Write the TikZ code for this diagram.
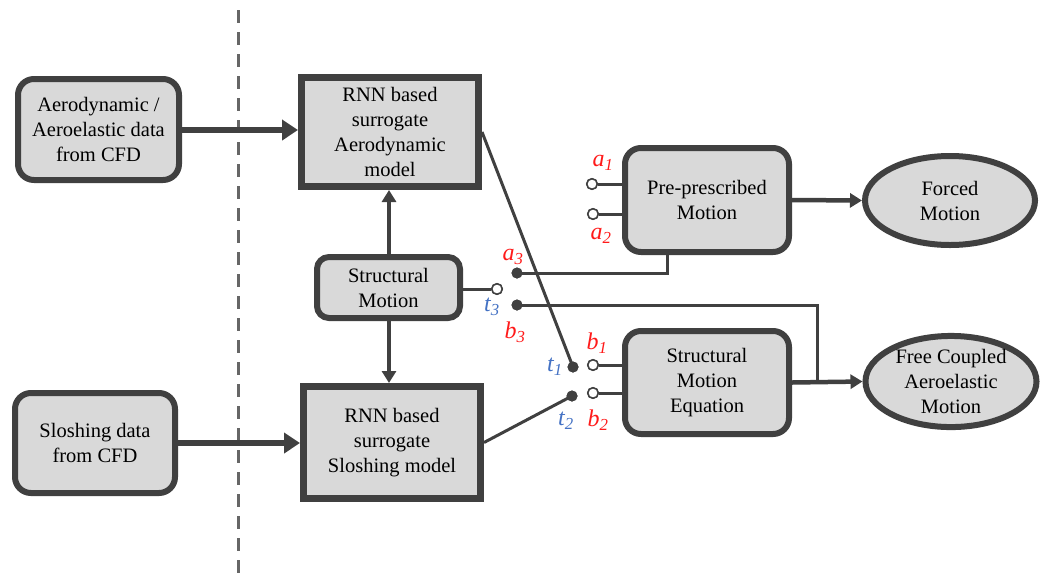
\documentclass[tikz,border=0pt]{standalone}
\usepackage{fontspec}
\setmainfont{Liberation Serif}
\usetikzlibrary{arrows.meta,shapes.geometric,shadows,calc}
\definecolor{bordc}{HTML}{404040}
\definecolor{fillc}{HTML}{D9D9D9}
\definecolor{redl}{HTML}{FF1A1A}
\definecolor{bluel}{HTML}{4472C4}
\definecolor{dashc}{HTML}{666666}
\begin{document}
\begin{tikzpicture}[x=1pt,y=-1pt,
  txt/.style={font=\fontsize{20.5}{25}\selectfont, align=center, text=black},
  rbox/.style={txt, draw=bordc, fill=fillc, line width=6pt, rounded corners=16pt, inner sep=0pt},
  sbox/.style={txt, draw=bordc, fill=fillc, line width=7pt, inner sep=0pt,
     drop shadow={opacity=0.35, shadow xshift=2pt, shadow yshift=-3pt}},
  ebox/.style={txt, ellipse, draw=bordc, fill=fillc, line width=6pt, inner sep=0pt},
  bigarrow/.style={draw=bordc, line width=5.5pt, -{Triangle[length=16pt,width=20pt]}},
  midarrow/.style={draw=bordc, line width=4.5pt, -{Triangle[length=12pt,width=14pt]}},
  wire/.style={draw=bordc, line width=3pt},
  opendot/.style={circle, draw=bordc, fill=white, line width=1.5pt, minimum size=10.5pt, inner sep=0pt},
  fulldot/.style={circle, fill=bordc, minimum size=11pt, inner sep=0pt},
  rlab/.style={text=redl, font=\fontsize{24}{24}\selectfont\itshape, inner sep=0pt},
  blab/.style={text=bluel, font=\fontsize{24}{24}\selectfont\itshape, inner sep=0pt}
]
\useasboundingbox (0,0) rectangle (1041,574);
\fill[white] (0,0) rectangle (1041,574);

% dashed separator
\coordinate (dtop) at (238,10);
\coordinate (dbot) at (238,574);
\draw[dashc, line width=3pt, dash pattern=on 13pt off 9pt] (dtop) -- (dbot);

% boxes
\node[rbox, minimum width=161pt, minimum height=101pt] (aero) at (98.5,129.5)
  {Aerodynamic /\\Aeroelastic data\\from CFD};
\node[rbox, minimum width=160pt, minimum height=100pt] (slosh) at (95,443)
  {Sloshing data\\from CFD};
\node[sbox, minimum width=177pt, minimum height=109pt] (rnna) at (390,132)
  {RNN based\\surrogate\\Aerodynamic\\model};
\node[sbox, minimum width=177pt, minimum height=112pt] (rnns) at (392,442.5)
  {RNN based\\surrogate\\Sloshing model};
\node[rbox, minimum width=143pt, minimum height=61pt, rounded corners=12pt] (sm) at (388.5,287.5)
  {Structural\\Motion};
\node[rbox, minimum width=164pt, minimum height=104pt] (ppm) at (707,200)
  {Pre-prescribed\\Motion};
\node[rbox, minimum width=164pt, minimum height=103pt] (sme) at (707,382.5)
  {Structural\\Motion\\Equation};
\node[ebox, minimum width=170pt, minimum height=89pt] (forced) at (950,200.5)
  {Forced\\Motion};
\node[ebox, minimum width=171pt, minimum height=87pt] (free) at (951,381.5)
  {Free Coupled\\Aeroelastic\\Motion};

% switch terminals
\node[opendot] (a1) at (592,184) {};
\node[opendot] (a2) at (593,214) {};
\node[fulldot] (a3) at (517,273) {};
\node[opendot] (t3) at (497,289) {};
\node[fulldot] (b3) at (517,305) {};
\node[opendot] (b1) at (593,365) {};
\node[opendot] (b2) at (593,393) {};
\node[fulldot] (t1) at (573,367) {};
\node[fulldot] (t2) at (572,396) {};
\coordinate (j) at (817,382);

% connectors
\draw[bigarrow] (aero.east |- 0,130) -- (rnna.west |- 0,130);
\draw[bigarrow] (slosh.east |- 0,443) -- (rnns.west |- 0,443);
\draw[midarrow] (sm.north -| 389,0) -- (rnna.south -| 389,0);
\draw[midarrow] (sm.south -| 389,0) -- (rnns.north -| 389,0);
\draw[midarrow] (ppm.east) -- (forced.west);
\draw[midarrow] (sme.east) -- (free.west);
\draw[wire] (sm.east |- t3) -- (t3.west);
\draw[wire] (a1.east) -- (a1 -| ppm.west);
\draw[wire] (a2.east) -- (a2 -| ppm.west);
\draw[wire] (b1.east) -- (b1 -| sme.west);
\draw[wire] (b2.east) -- (b2 -| sme.west);
\draw[wire] (a3.center) -| ([xshift=-40pt]ppm.south);
\draw[wire] (b3.center) -| (j);
\draw[wire] (rnna.east) -- (t1.center);
\draw[wire] (rnns.east) -- (t2.center);

% redraw terminals on top
\node[opendot] at (a1) {};
\node[opendot] at (a2) {};
\node[opendot] at (t3) {};
\node[opendot] at (b1) {};
\node[opendot] at (b2) {};
\node[fulldot] at (a3) {};
\node[fulldot] at (b3) {};
\node[fulldot] at (t1) {};
\node[fulldot] at (t2) {};

% labels
\node[rlab] (la1) at (603,163) {a\textsubscript{1}};
\node[rlab] (la2) at (601,236) {a\textsubscript{2}};
\node[rlab] (la3) at (513,257) {a\textsubscript{3}};
\node[rlab] (lb3) at (515,332) {b\textsubscript{3}};
\node[blab] (lt3) at (492,307) {t\textsubscript{3}};
\node[rlab] (lb1) at (597,343) {b\textsubscript{1}};
\node[blab] (lt1) at (555,367) {t\textsubscript{1}};
\node[blab] (lt2) at (566,421) {t\textsubscript{2}};
\node[rlab] (lb2) at (598,420) {b\textsubscript{2}};
\end{tikzpicture}
\end{document}
